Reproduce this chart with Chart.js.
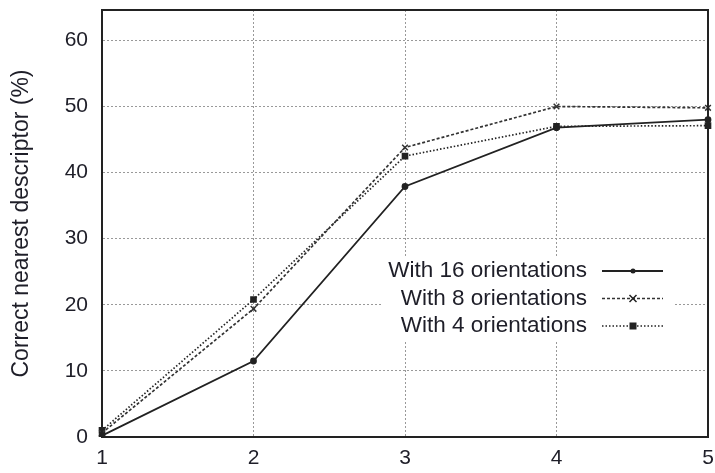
<!DOCTYPE html>
<html>
<head>
<meta charset="utf-8">
<script src="https://cdn.jsdelivr.net/npm/chart.js@4.4.0/dist/chart.umd.min.js"></script>
<style>
  html, body { margin: 0; padding: 0; background: #fff; }
  #wrap { width: 715px; height: 473px; }
</style>
</head>
<body>
<div id="wrap"><canvas id="grafica"></canvas></div>
<script>
// datos
const categorias = ['1', '2', '3', '4', '5'];
const con16 = [0.2, 11.5, 37.9, 46.8, 48.0];
const con8 = [0.6, 19.4, 43.8, 50.0, 49.8];
const con4 = [1.0, 20.8, 42.5, 47.0, 47.1];
const ticksY = [0, 10, 20, 30, 40, 50, 60];

const colorTexto = '#1e1e28';
const fuente = 'Liberation Sans, Arial, sans-serif';

// caja del grafico (borde superior y derecho)
const cajaPlugin = {
    id: 'caja',
    afterDatasetsDraw(chart) {
        const a = chart.chartArea;
        const ctx = chart.ctx;
        ctx.save();
        ctx.strokeStyle = '#222';
        ctx.lineWidth = 2;
        ctx.strokeRect(a.left, a.top, a.right - a.left, a.bottom - a.top);
        ctx.restore();
    }
};

function dibujarMarca(ctx, estilo, x, y) {
    ctx.save();
    ctx.fillStyle = '#222';
    ctx.strokeStyle = '#222';
    ctx.lineWidth = 1.5;
    ctx.setLineDash([]);
    if (estilo === 'circle') {
        ctx.beginPath();
        ctx.arc(x, y, 2.5, 0, Math.PI * 2);
        ctx.fill();
    } else if (estilo === 'crossRot') {
        ctx.beginPath();
        ctx.moveTo(x - 3.5, y - 3.5); ctx.lineTo(x + 3.5, y + 3.5);
        ctx.moveTo(x + 3.5, y - 3.5); ctx.lineTo(x - 3.5, y + 3.5);
        ctx.stroke();
    } else {
        ctx.fillRect(x - 3.5, y - 3.5, 7, 7);
    }
    ctx.restore();
}

// leyenda al estilo gnuplot: texto a la derecha y muestra de linea
const leyendaPlugin = {
    id: 'leyenda',
    afterDatasetsDraw(chart) {
        const ctx = chart.ctx;
        ctx.save();
        ctx.fillStyle = '#fff';
        ctx.fillRect(383, 258, 292, 83);
        ctx.font = '22.5px ' + fuente;
        ctx.textAlign = 'right';
        ctx.textBaseline = 'middle';
        chart.data.datasets.forEach((ds, i) => {
            const y = 271 + i * 27.5;
            ctx.fillStyle = colorTexto;
            ctx.fillText(ds.label, 587, y);
            ctx.strokeStyle = ds.borderColor;
            ctx.lineWidth = ds.borderWidth;
            ctx.setLineDash(ds.borderDash || []);
            ctx.beginPath();
            ctx.moveTo(602, y);
            ctx.lineTo(663, y);
            ctx.stroke();
            dibujarMarca(ctx, ds.pointStyle, 633, y);
        });
        ctx.restore();
    }
};

const datos = {
    labels: categorias,
    datasets: [
        {
            label: 'With 16 orientations',
            data: con16,
            borderColor: '#222',
            backgroundColor: '#222',
            borderWidth: 1.8,
            pointStyle: 'circle',
            pointRadius: 2.5,
            tension: 0
        },
        {
            label: 'With 8 orientations',
            data: con8,
            borderColor: '#333',
            backgroundColor: '#333',
            borderWidth: 1.7,
            borderDash: [3, 2],
            pointStyle: 'crossRot',
            pointRadius: 4,
            pointBorderWidth: 1.5,
            tension: 0
        },
        {
            label: 'With 4 orientations',
            data: con4,
            borderColor: '#222',
            backgroundColor: '#222',
            borderWidth: 1.7,
            borderDash: [1.5, 2],
            pointStyle: 'rect',
            pointRadius: 3.5,
            tension: 0
        }
    ]
};

const config = {
    type: 'line',
    data: datos,
    options: {
        responsive: true,
        maintainAspectRatio: false,
        animation: false,
        layout: { padding: { left: 0, right: 7, top: 10, bottom: 0 } },
        plugins: {
            legend: { display: false },
            tooltip: { enabled: false }
        },
        scales: {
            x: {
                type: 'category',
                offset: false,
                grid: { color: '#999', drawTicks: false, lineWidth: 1 },
                border: { display: true, color: '#222', width: 2, dash: [2, 2] },
                ticks: { color: colorTexto, font: { family: fuente, size: 21 }, padding: 9, maxRotation: 0 },
                afterFit: s => { s.height = 36; s.paddingRight = 0; s.paddingLeft = 0; }
            },
            y: {
                min: 0,
                max: 64.6,
                afterBuildTicks: s => { s.ticks = ticksY.map(v => ({ value: v })); },
                grid: { color: '#999', drawTicks: false, lineWidth: 1 },
                border: { display: true, color: '#222', width: 2, dash: [2, 2] },
                ticks: { color: colorTexto, font: { family: fuente, size: 21 }, padding: 14 },
                title: {
                    display: true,
                    text: 'Correct nearest descriptor (%)',
                    color: colorTexto,
                    font: { family: fuente, size: 23 },
                    padding: { top: 8, bottom: 0 }
                },
                afterFit: s => { s.width = 102; s.paddingTop = 0; s.paddingBottom = 0; }
            }
        }
    },
    plugins: [cajaPlugin, leyendaPlugin]
};

new Chart(document.getElementById('grafica').getContext('2d'), config);
</script>
</body>
</html>
